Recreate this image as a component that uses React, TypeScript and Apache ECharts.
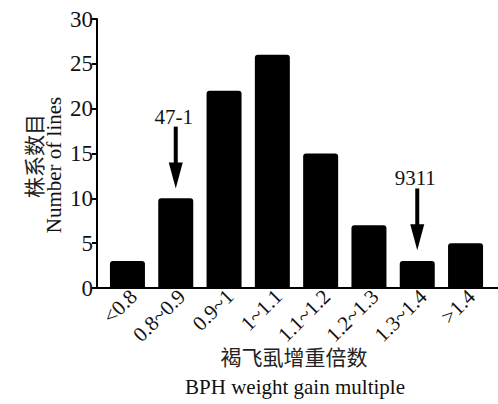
import React, { useEffect, useRef } from "react";
import * as echarts from "echarts";

const categories = ["<0.8", "0.8~0.9", "0.9~1", "1~1.1", "1.1~1.2", "1.2~1.3", "1.3~1.4", ">1.4"];
const counts = [3, 10, 22, 26, 15, 7, 3, 5];
const arrowCats = [1, 6];
const arrowTop = [18, 11.1];
const arrowTip = [11.1, 4.2];
const arrowLabels = ["47-1", "9311"];
const yName = ["株系数目", "Number of lines"];
const xName = ["褐飞虱增重倍数", "BPH weight gain multiple"];

const FONT = "'Liberation Serif', 'Times New Roman', 'Noto Sans CJK SC', serif";

export default function App() {
  const ref = useRef<HTMLDivElement>(null);
  useEffect(() => {
    const chart = echarts.init(ref.current!, null, { renderer: "svg" });
    const arrowData = arrowCats.map((c, i) => [c, arrowTop[i], arrowTip[i]]);
    chart.setOption({
      animation: false,
      backgroundColor: "#fff",
      textStyle: { fontFamily: FONT },
      grid: [
        { left: 103.3, right: 8.3, top: 19, bottom: 116 },
        { left: 97, right: 0, top: 19, bottom: 116 },
        { left: 109.3, right: 2.3, top: 19, bottom: 116 },
      ],
      xAxis: [
        {
          type: "category",
          data: categories,
          gridIndex: 0,
          axisLine: { show: false },
          axisTick: { show: false },
          axisLabel: { show: false },
        },
        {
          type: "value",
          gridIndex: 1,
          min: 0,
          max: 1,
          axisLine: { show: true, lineStyle: { color: "#000", width: 2 } },
          axisTick: { show: false },
          axisLabel: { show: false },
          splitLine: { show: false },
        },
        {
          type: "category",
          data: categories,
          gridIndex: 2,
          axisLine: { show: false },
          axisTick: { show: false },
          axisLabel: {
            rotate: 45,
            interval: 0,
            fontSize: 21,
            color: "#111",
            fontFamily: FONT,
            margin: 5,
          },
        },
      ],
      yAxis: [
        {
          type: "value",
          gridIndex: 0,
          min: 0,
          max: 30,
          interval: 5,
          show: false,
          splitLine: { show: false },
        },
        {
          type: "value",
          gridIndex: 1,
          min: 0,
          max: 30,
          interval: 5,
          axisLine: { show: true, lineStyle: { color: "#000", width: 2 } },
          axisTick: { show: true, inside: false, length: 5, lineStyle: { color: "#000", width: 2 } },
          axisLabel: { fontSize: 23, color: "#111", margin: 4, fontFamily: FONT },
          splitLine: { show: false },
        },
        {
          type: "value",
          gridIndex: 2,
          min: 0,
          max: 30,
          interval: 5,
          show: false,
          splitLine: { show: false },
        },
      ],
      series: [
        {
          type: "bar",
          xAxisIndex: 0,
          yAxisIndex: 0,
          data: counts,
          barWidth: 35,
          itemStyle: { color: "#000", borderRadius: [3, 3, 0, 0] },
        },
        {
          type: "custom",
          xAxisIndex: 0,
          yAxisIndex: 0,
          data: arrowData,
          renderItem: (params: any, api: any) => {
            const top = api.coord([api.value(0), api.value(1)]);
            const tip = api.coord([api.value(0), api.value(2)]);
            const headH = 26;
            const headW = 7;
            const x = top[0];
            return {
              type: "group",
              children: [
                {
                  type: "line",
                  shape: { x1: x, y1: top[1], x2: x, y2: tip[1] - headH + 2 },
                  style: { stroke: "#000", lineWidth: 4 },
                },
                {
                  type: "polygon",
                  shape: {
                    points: [
                      [x - headW, tip[1] - headH],
                      [x + headW, tip[1] - headH],
                      [x, tip[1]],
                    ],
                  },
                  style: { fill: "#000" },
                },
                {
                  type: "text",
                  x: x - 2,
                  y: top[1] - 10,
                  style: {
                    text: arrowLabels[params.dataIndex],
                    fontSize: 21,
                    fontFamily: FONT,
                    fill: "#111",
                    align: "center",
                    verticalAlign: "middle",
                  },
                },
              ],
            };
          },
        },
      ],
      graphic: [
        {
          type: "text",
          x: 35,
          y: 156,
          rotation: Math.PI / 2,
          style: {
            text: yName[0],
            fontSize: 21,
            fontFamily: FONT,
            fill: "#222",
            align: "center",
            verticalAlign: "middle",
          },
        },
        {
          type: "text",
          x: 54,
          y: 165,
          rotation: Math.PI / 2,
          style: {
            text: yName[1],
            fontSize: 21,
            fontFamily: FONT,
            fill: "#111",
            align: "center",
            verticalAlign: "middle",
          },
        },
        {
          type: "text",
          x: 294,
          y: 358,
          style: {
            text: xName[0],
            fontSize: 21,
            fontFamily: FONT,
            fill: "#222",
            align: "center",
            verticalAlign: "middle",
          },
        },
        {
          type: "text",
          x: 295,
          y: 387,
          style: {
            text: xName[1],
            fontSize: 21,
            fontFamily: FONT,
            fill: "#111",
            align: "center",
            verticalAlign: "middle",
          },
        },
      ],
    });
    return () => chart.dispose();
  }, []);
  return (
    <div
      ref={ref}
      style={{ position: "fixed", left: 0, top: 0, width: 498, height: 404 }}
    />
  );
}
